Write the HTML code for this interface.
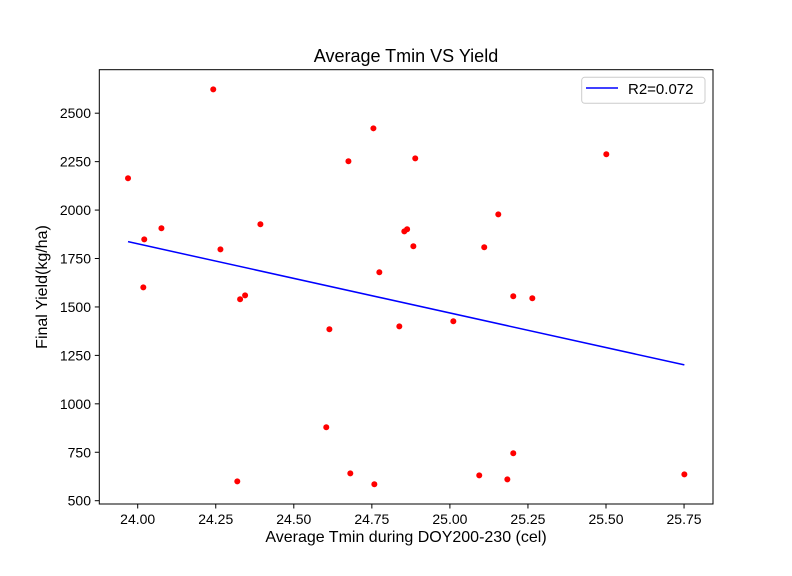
<!DOCTYPE html>
<html><head><meta charset="utf-8"><style>
html,body{margin:0;padding:0;background:#fff;}
svg{display:block;font-family:"Liberation Sans",sans-serif;}
</style></head><body>
<svg id="chart" width="792" height="576" viewBox="0 0 792 576">
<rect width="792" height="576" fill="#fff"/>
<g id="marks"></g>
<rect x="99.3" y="69.7" width="613.7" height="434.3" fill="none" stroke="#000" stroke-width="1"/>
<g id="xticks"></g>
<g id="yticks"></g>
<text x="406" y="62" font-size="18" text-anchor="middle">Average Tmin VS Yield</text>
<text x="406" y="542" font-size="16" text-anchor="middle">Average Tmin during DOY200-230 (cel)</text>
<text transform="translate(47,287) rotate(-90)" font-size="16" text-anchor="middle">Final Yield(kg/ha)</text>
<g>
<rect x="581.7" y="77.3" width="123.3" height="26" rx="3" fill="#fff" stroke="#ccc" stroke-width="1"/>
<line x1="586" y1="88" x2="618" y2="88" stroke="#0000ff" stroke-width="1.5"/>
<text x="628" y="94" font-size="15">R2=0.072</text>
</g>
</svg>
<script>
const tmin = [23.969,24.242,24.755,24.675,24.889,24.076,24.021,24.393,24.265,24.854,24.863,24.883,24.774,24.018,24.328,24.344,24.614,24.838,24.604,24.319,24.681,24.758,25.501,25.155,25.110,25.203,25.264,25.011,25.203,25.094,25.184,25.751];
const yieldVals = [2164,2623,2422,2252,2267,1906,1849,1927,1797,1890,1901,1813,1679,1601,1540,1560,1385,1400,879,600,641,585,2288,1978,1808,1555,1545,1426,745,631,610,636];
const fitSlope = [-357];
const fitIntercept = [1837 + 357*23.969];
const xTicks = [24.00,24.25,24.50,24.75,25.00,25.25,25.50,25.75];
const xTickLabels = ["24.00","24.25","24.50","24.75","25.00","25.25","25.50","25.75"];
const yTicks = [500,750,1000,1250,1500,1750,2000,2250,2500];
const yTickLabels = ["500","750","1000","1250","1500","1750","2000","2250","2500"];

const NS="http://www.w3.org/2000/svg";
function xs(v){return 137.7+(v-24)*312.2;}
function ys(v){return 500.7-(v-500)*0.19375;}
const marks=document.getElementById('marks');
const xmin=Math.min(...tmin), xmax=Math.max(...tmin);
const ln=document.createElementNS(NS,'line');
ln.setAttribute('x1',xs(xmin));ln.setAttribute('y1',ys(fitIntercept[0]+fitSlope[0]*xmin));
ln.setAttribute('x2',xs(xmax));ln.setAttribute('y2',ys(fitIntercept[0]+fitSlope[0]*xmax));
ln.setAttribute('stroke','#0000ff');ln.setAttribute('stroke-width','1.5');


marks.appendChild(ln);
tmin.forEach((t,i)=>{
  const c=document.createElementNS(NS,'circle');
  c.setAttribute('cx',xs(t));c.setAttribute('cy',ys(yieldVals[i]));c.setAttribute('r','3');c.setAttribute('fill','#ff0000');
  
  
  marks.appendChild(c);
});
const xg=document.getElementById('xticks');
xTicks.forEach((v,i)=>{
  const x=xs(v);
  const l=document.createElementNS(NS,'line');
  l.setAttribute('x1',x);l.setAttribute('x2',x);l.setAttribute('y1',504);l.setAttribute('y2',508.5);l.setAttribute('stroke','#000');
  
  
  xg.appendChild(l);
  const tx=document.createElementNS(NS,'text');
  tx.setAttribute('x',x);tx.setAttribute('y',524);tx.setAttribute('font-size','14');tx.setAttribute('text-anchor','middle');
  tx.textContent=xTickLabels[i];
  
  
  xg.appendChild(tx);
});
const yg=document.getElementById('yticks');
yTicks.forEach((v,i)=>{
  const y=ys(v);
  const l=document.createElementNS(NS,'line');
  l.setAttribute('x1',94.8);l.setAttribute('x2',99.3);l.setAttribute('y1',y);l.setAttribute('y2',y);l.setAttribute('stroke','#000');
  
  
  yg.appendChild(l);
  const tx=document.createElementNS(NS,'text');
  tx.setAttribute('x',91);tx.setAttribute('y',y+5);tx.setAttribute('font-size','14');tx.setAttribute('text-anchor','end');
  tx.textContent=yTickLabels[i];
  
  
  yg.appendChild(tx);
});
</script>
</body></html>
